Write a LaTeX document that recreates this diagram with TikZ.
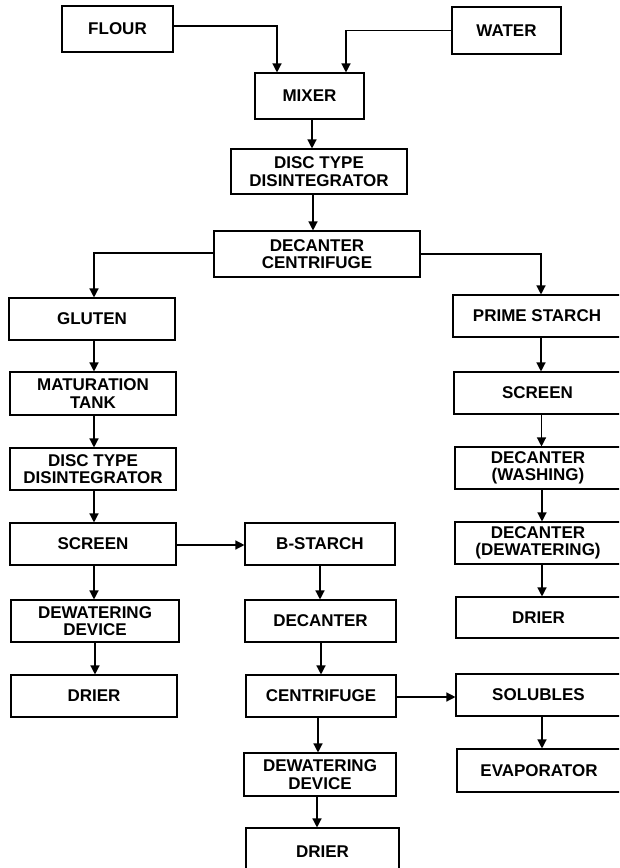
\documentclass[tikz,border=0pt]{standalone}
\usepackage{fontspec}
\setmainfont{Liberation Sans}
\usetikzlibrary{arrows.meta}
\begin{document}
\begin{tikzpicture}[x=1pt,y=-1pt,
  box/.style={draw=black,line width=1.1pt,rectangle,inner sep=0pt,align=center,
    font=\fontsize{17}{17.5}\selectfont\bfseries},
  arr/.style={line width=1.3pt,-{Triangle[length=9pt,width=9pt]}}]
\useasboundingbox (0,0) rectangle (619,868);
\clip (0,0) rectangle (619,868);
\fill[white] (0,0) rectangle (619,868);
% top
\node[box,minimum width=111pt,minimum height=46pt] (flour) at (117.5,29) {FLOUR};
\node[box,minimum width=109pt,minimum height=47pt] (water) at (506.5,30.5) {WATER};
\node[box,minimum width=109pt,minimum height=46pt] (mixer) at (309.5,96) {MIXER};
\node[box,minimum width=176pt,minimum height=45pt] (disc1) at (319,171.5) {DISC TYPE\\DISINTEGRATOR};
\node[box,minimum width=206pt,minimum height=46pt] (dec1) at (317,254) {DECANTER\\CENTRIFUGE};
% left column
\node[box,minimum width=166pt,minimum height=42pt] (gluten) at (92,319) {GLUTEN};
\node[box,minimum width=166pt,minimum height=43pt] (mat) at (93,393.5) {MATURATION\\TANK};
\node[box,minimum width=166pt,minimum height=42pt] (disc2) at (93,469) {DISC TYPE\\DISINTEGRATOR};
\node[box,minimum width=166pt,minimum height=42pt] (scr1) at (93,544) {SCREEN};
\node[box,minimum width=168pt,minimum height=42pt] (dew1) at (95,621) {DEWATERING\\DEVICE};
\node[box,minimum width=166pt,minimum height=42pt] (dri1) at (94,696) {DRIER};
% middle column
\node[box,minimum width=150pt,minimum height=42pt] (bst) at (320,544) {B-STARCH};
\node[box,minimum width=151pt,minimum height=42pt] (dec2) at (320.5,621) {DECANTER};
\node[box,minimum width=150pt,minimum height=42pt] (cen) at (321,696) {CENTRIFUGE};
\node[box,minimum width=152pt,minimum height=43pt] (dew2) at (320,774.5) {DEWATERING\\DEVICE};
\node[box,minimum width=153pt,minimum height=48pt] (dri2) at (322.5,852) {DRIER};
% right column
\node[box,minimum width=168pt,minimum height=42pt] (prime) at (537,316) {PRIME STARCH};
\node[box,minimum width=167pt,minimum height=42pt] (scr2) at (537.5,393) {SCREEN};
\node[box,minimum width=166pt,minimum height=42pt] (decw) at (538,468) {DECANTER\\(WASHING)};
\node[box,minimum width=166pt,minimum height=42pt] (decd) at (538,543) {DECANTER\\(DEWATERING)};
\node[box,minimum width=165pt,minimum height=41pt] (dri3) at (538.5,617.5) {DRIER};
\node[box,minimum width=165pt,minimum height=42pt] (sol) at (538.5,695) {SOLUBLES};
\node[box,minimum width=164pt,minimum height=43pt] (evap) at (539,770.5) {EVAPORATOR};
% connectors top
\draw[arr] ([yshift=3pt]flour.east) -| ([xshift=-32.5pt]mixer.north);
\draw[arr] (water.west) -| ([xshift=36.5pt]mixer.north);
\draw[arr] ([xshift=2.5pt]mixer.south) -- ([xshift=2.5pt]mixer.south |- disc1.north);
\draw[arr] ([xshift=-6pt]disc1.south) -- ([xshift=-6pt]disc1.south |- dec1.north);
\draw[arr] ([yshift=1pt]dec1.west) -| ([xshift=2pt]gluten.north);
\draw[arr] (dec1.east) -| ([xshift=4pt]prime.north);
% left column
\draw[arr] ([xshift=2pt]gluten.south) -- ([xshift=2pt]gluten.south |- mat.north);
\draw[arr] ([xshift=1pt]mat.south) -- ([xshift=1pt]mat.south |- disc2.north);
\draw[arr] ([xshift=1pt]disc2.south) -- ([xshift=1pt]disc2.south |- scr1.north);
\draw[arr] ([xshift=1pt]scr1.south) -- ([xshift=1pt]scr1.south |- dew1.north);
\draw[arr] (dew1.south) -- (dew1.south |- dri1.north);
\draw[arr] ([yshift=-1pt]scr1.east) -- ([yshift=-1pt]scr1.east -| bst.west);
% middle column
\draw[arr] (bst.south) -- (bst.south |- dec2.north);
\draw[arr] ([xshift=0.5pt]dec2.south) -- ([xshift=0.5pt]dec2.south |- cen.north);
\draw[arr] ([xshift=-3pt]cen.south) -- ([xshift=-3pt]cen.south |- dew2.north);
\draw[arr] ([xshift=-3pt]dew2.south) -- ([xshift=-3pt]dew2.south |- dri2.north);
\draw[arr] ([yshift=-1pt]cen.east) -- ([yshift=-1pt]cen.east -| sol.west);
% right column
\draw[arr] ([xshift=4pt]prime.south) -- ([xshift=4pt]prime.south |- scr2.north);
\draw[arr] ([xshift=4pt]scr2.south) -- ([xshift=4pt]scr2.south |- decw.north);
\draw[arr] ([xshift=4pt]decw.south) -- ([xshift=4pt]decw.south |- decd.north);
\draw[arr] ([xshift=4pt]decd.south) -- ([xshift=4pt]decd.south |- dri3.north);
\draw[arr] ([xshift=3.5pt]sol.south) -- ([xshift=3.5pt]sol.south |- evap.north);
\end{tikzpicture}
\end{document}
